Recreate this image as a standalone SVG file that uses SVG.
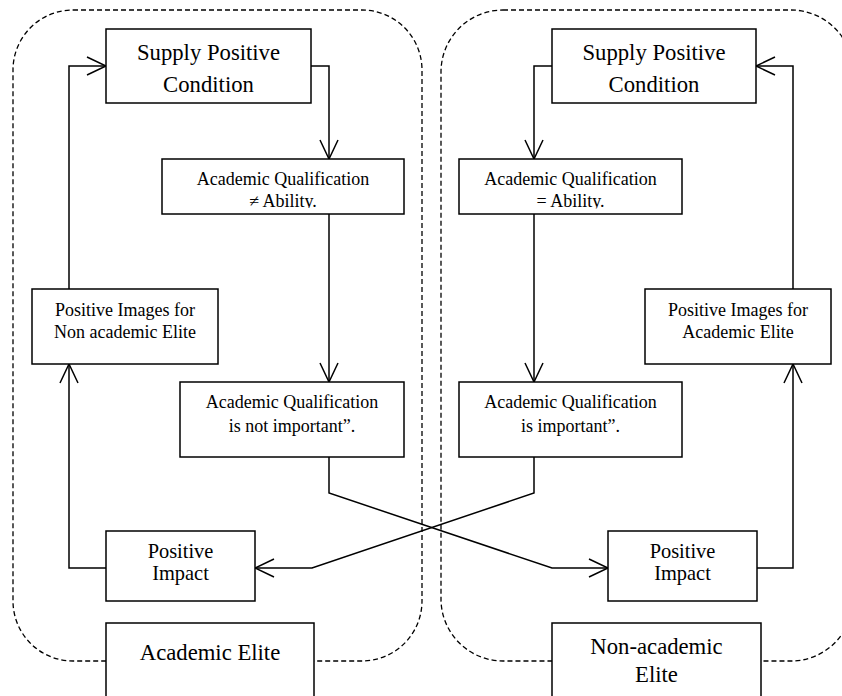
<svg xmlns="http://www.w3.org/2000/svg" width="842" height="696" viewBox="0 0 842 696">
  <style>
    .box { fill: #ffffff; stroke: #000000; stroke-width: 1.5; }
    .group { fill: none; stroke: #000000; stroke-width: 1.3; stroke-dasharray: 5 3; }
    .wire { fill: none; stroke: #000000; stroke-width: 1.5; marker-end: url(#open); }
    text { fill: #000000; text-anchor: middle; font-family: "Liberation Serif", "Times New Roman", Times, serif; }
    .big { font-size: 22.7px; }
    .small { font-size: 18px; }
    .mid { font-size: 20.4px; }
  </style>
  <defs>
    <!-- open V arrowhead -->
    <marker id="open" markerUnits="userSpaceOnUse" markerWidth="22" markerHeight="22" viewBox="-20 -11 22 22" refX="0" refY="0" orient="auto" overflow="visible">
      <path d="M-19,-9 L0,0 L-19,9" fill="none" stroke="#000000" stroke-width="1.5"/>
    </marker>
    <!-- second lines of the qualification boxes are cut at their baseline -->
    <clipPath id="clipNeq"><rect x="162" y="159" width="242" height="49"/></clipPath>
    <clipPath id="clipEq"><rect x="459" y="159" width="223" height="49.5"/></clipPath>
  </defs>

  <rect width="842" height="696" fill="#ffffff"/>

  <!-- dashed group outlines -->
  <g id="groups">
    <rect class="group" x="13" y="10" width="409" height="651" rx="60" ry="60"/>
    <rect class="group" x="441" y="10" width="412" height="651" rx="62" ry="62"/>
  </g>

  <!-- connectors -->
  <g id="connectors">
    <!-- left loop -->
    <polyline class="wire" points="69,289 69,66 106,66"/>
    <polyline class="wire" points="311,66 329,66 329,159"/>
    <polyline class="wire" points="329,214 329,382"/>
    <polyline class="wire" points="106,568 69,568 69,364"/>
    <!-- right loop -->
    <polyline class="wire" points="552,66 534,66 534,159"/>
    <polyline class="wire" points="534,214 534,382"/>
    <polyline class="wire" points="757,568 793,568 793,364"/>
    <polyline class="wire" points="793,289 793,66 756,66"/>
    <!-- crossing links -->
    <polyline class="wire" points="329,457 329,493 552,568 608,568"/>
    <polyline class="wire" points="534,457 534,493 312,568 255,568"/>
  </g>

  <!-- left side nodes -->
  <g id="supply-left">
    <rect class="box" x="106" y="29" width="205" height="74"/>
    <text class="big" x="208.5" y="60">Supply Positive</text>
    <text class="big" x="208.5" y="92">Condition</text>
  </g>
  <g id="qual-neq">
    <rect class="box" x="162" y="159" width="242" height="55"/>
    <text class="small" x="283" y="185">Academic Qualification</text>
    <text class="small" x="283" y="207" clip-path="url(#clipNeq)">≠ Ability.</text>
  </g>
  <g id="images-nonacademic">
    <rect class="box" x="32" y="289" width="186" height="75"/>
    <text class="small" x="125" y="316">Positive Images for</text>
    <text class="small" x="125" y="338">Non academic Elite</text>
  </g>
  <g id="qual-not-important">
    <rect class="box" x="180" y="382" width="224" height="75"/>
    <text class="small" x="292" y="408">Academic Qualification</text>
    <text class="small" x="292" y="432">is not important”.</text>
  </g>
  <g id="impact-left">
    <rect class="box" x="106" y="531" width="149" height="70"/>
    <text class="mid" x="180.5" y="558">Positive</text>
    <text class="mid" x="180.5" y="580">Impact</text>
  </g>
  <g id="academic-elite">
    <rect class="box" x="106" y="623" width="208" height="80"/>
    <text class="big" x="210" y="660">Academic Elite</text>
  </g>

  <!-- right side nodes -->
  <g id="supply-right">
    <rect class="box" x="552" y="29" width="204" height="74"/>
    <text class="big" x="654" y="60">Supply Positive</text>
    <text class="big" x="654" y="92">Condition</text>
  </g>
  <g id="qual-eq">
    <rect class="box" x="459" y="159" width="223" height="55"/>
    <text class="small" x="570.5" y="185">Academic Qualification</text>
    <text class="small" x="570.5" y="207" clip-path="url(#clipEq)">= Ability.</text>
  </g>
  <g id="images-academic">
    <rect class="box" x="645" y="289" width="186" height="75"/>
    <text class="small" x="738" y="316">Positive Images for</text>
    <text class="small" x="738" y="338">Academic Elite</text>
  </g>
  <g id="qual-important">
    <rect class="box" x="459" y="382" width="223" height="75"/>
    <text class="small" x="570.5" y="408">Academic Qualification</text>
    <text class="small" x="570.5" y="432">is important”.</text>
  </g>
  <g id="impact-right">
    <rect class="box" x="608" y="531" width="149" height="70"/>
    <text class="mid" x="682.5" y="558">Positive</text>
    <text class="mid" x="682.5" y="580">Impact</text>
  </g>
  <g id="nonacademic-elite">
    <rect class="box" x="552" y="623" width="209" height="80"/>
    <text class="big" x="656.5" y="654">Non-academic</text>
    <text class="big" x="656.5" y="682">Elite</text>
  </g>
</svg>
